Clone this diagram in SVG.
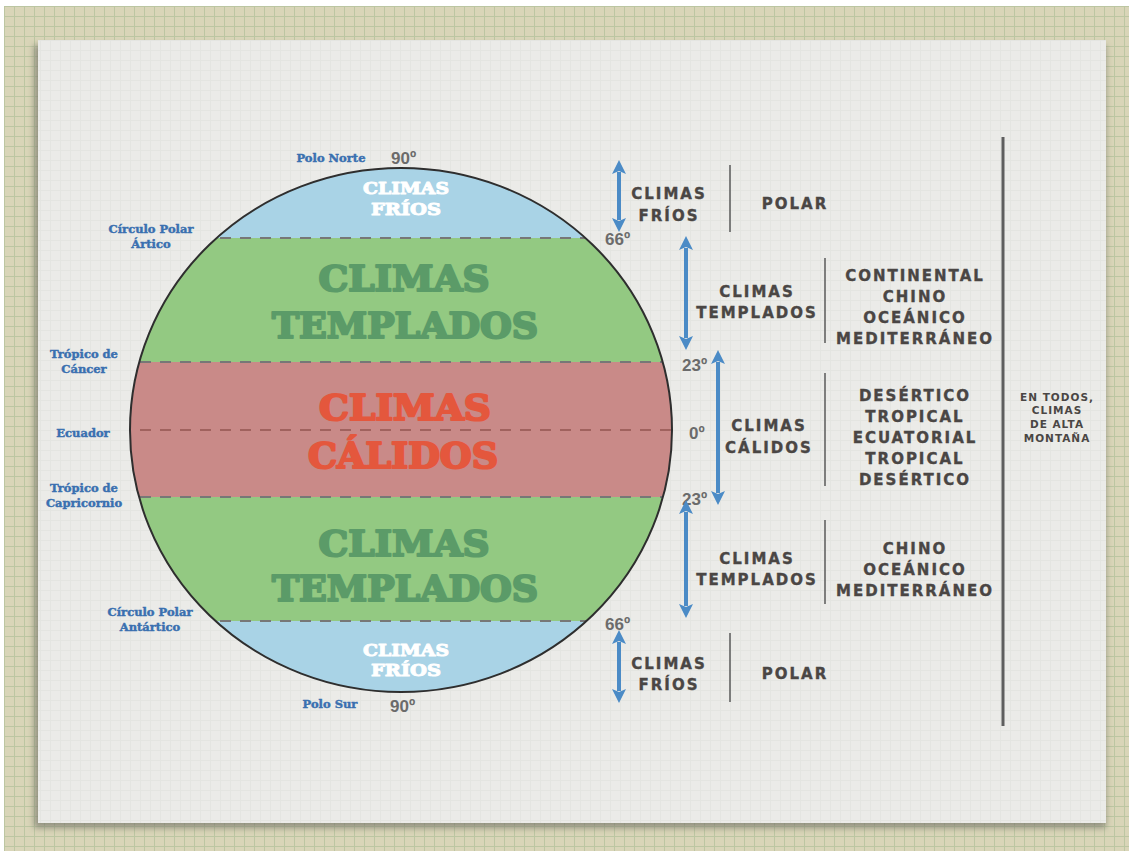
<svg xmlns="http://www.w3.org/2000/svg" width="1129" height="851" viewBox="0 0 1129 851">
<defs>
<pattern id="grid" width="10" height="10" patternUnits="userSpaceOnUse" x="4" y="6">
<rect width="10" height="10" fill="#d9d5b8"/>
<path d="M0,0.5 H10 M0.5,0 V10" stroke="#bcc6a2" stroke-width="1"/>
</pattern>
<pattern id="papergrid" width="10" height="10" patternUnits="userSpaceOnUse">
<rect width="10" height="10" fill="#ebebe8"/>
<path d="M0,0.5 H10 M0.5,0 V10" stroke="#e4e5e1" stroke-width="1"/>
</pattern>
<filter id="blur" x="-5%" y="-5%" width="110%" height="110%"><feGaussianBlur stdDeviation="3"/></filter>
<clipPath id="globe"><ellipse cx="401" cy="430" rx="271" ry="262"/></clipPath>
<marker id="ah" viewBox="-2 -8 18 16" markerWidth="18" markerHeight="16" refX="2" refY="0" orient="auto-start-reverse" markerUnits="userSpaceOnUse">
<path d="M0,-7 L14,0 L0,7 L3,0 Z" fill="#4b8bc6"/>
</marker>
<style>
.slab{font-family:"DejaVu Serif","Liberation Serif",serif;font-weight:bold;text-anchor:middle;stroke-linejoin:round}
.big{font-size:36px;stroke-width:2.2px}
.sm{font-size:17px;stroke-width:1px;fill:#ffffff;stroke:#ffffff}
.grn{fill:#5b9b68;stroke:#5b9b68}
.red{fill:#e4573d;stroke:#e4573d}
.lbl{font-family:"DejaVu Serif","Liberation Serif",serif;font-weight:bold;font-size:11.5px;fill:#3a70b0;stroke:#3a70b0;stroke-width:0.45px;text-anchor:middle}
.deg{font-family:"Liberation Sans","DejaVu Sans",sans-serif;font-weight:bold;font-size:17px;fill:#6b6b6b}
.cap{font-family:"DejaVu Sans","Liberation Sans",sans-serif;font-weight:bold;font-size:15px;fill:#4a4644;stroke:#4a4644;stroke-width:0.35px;text-anchor:middle;letter-spacing:2px}
.small{font-family:"DejaVu Sans","Liberation Sans",sans-serif;font-weight:bold;font-size:10.5px;fill:#4a4644;text-anchor:middle;letter-spacing:1px}
.dash{stroke:#777;stroke-width:2;stroke-dasharray:11 9;fill:none}
.arrow{stroke:#4b8bc6;stroke-width:4;marker-start:url(#ah);marker-end:url(#ah)}
.sep{stroke:#5a5a5a;stroke-width:1.5}
</style>
</defs>
<rect x="0" y="0" width="1129" height="851" fill="#ffffff"/>
<rect x="4" y="6" width="1125" height="845" fill="url(#grid)"/>
<rect x="34" y="45" width="1072" height="783" fill="#77786a" opacity="0.7" filter="url(#blur)"/>
<rect x="38" y="40" width="1068" height="783" fill="url(#papergrid)"/>

<g id="globe-bands" clip-path="url(#globe)">
<rect x="120" y="160" width="560" height="78" fill="#a9d3e6"/>
<rect x="120" y="238" width="560" height="124" fill="#93c982"/>
<rect x="120" y="362" width="560" height="135" fill="#c98a88"/>
<rect x="120" y="497" width="560" height="124" fill="#93c982"/>
<rect x="120" y="621" width="560" height="80" fill="#a9d3e6"/>
<line class="dash" x1="120" y1="238" x2="680" y2="238"/>
<line class="dash" x1="120" y1="362" x2="680" y2="362"/>
<line class="dash" x1="120" y1="430" x2="680" y2="430" style="stroke:#a0625e"/>
<line class="dash" x1="120" y1="497" x2="680" y2="497"/>
<line class="dash" x1="120" y1="621" x2="680" y2="621"/>
</g>
<ellipse id="globe-outline" cx="401" cy="430" rx="271" ry="262" fill="none" stroke="#2e2e2e" stroke-width="2"/>

<g id="zone-frios-n">
<text class="slab sm" x="406" y="194" textLength="86" lengthAdjust="spacingAndGlyphs">CLIMAS</text>
<text class="slab sm" x="406" y="215" textLength="70" lengthAdjust="spacingAndGlyphs">FRÍOS</text>
</g>
<g id="zone-templados-n">
<text class="slab big grn" x="404" y="291" textLength="171" lengthAdjust="spacingAndGlyphs">CLIMAS</text>
<text class="slab big grn" x="405" y="338" textLength="266" lengthAdjust="spacingAndGlyphs">TEMPLADOS</text>
</g>
<g id="zone-calidos">
<text class="slab big red" x="405" y="420" textLength="172" lengthAdjust="spacingAndGlyphs">CLIMAS</text>
<text class="slab big red" x="403" y="468" textLength="190" lengthAdjust="spacingAndGlyphs">CÁLIDOS</text>
</g>
<g id="zone-templados-s">
<text class="slab big grn" x="404" y="556" textLength="171" lengthAdjust="spacingAndGlyphs">CLIMAS</text>
<text class="slab big grn" x="405" y="601" textLength="266" lengthAdjust="spacingAndGlyphs">TEMPLADOS</text>
</g>
<g id="zone-frios-s">
<text class="slab sm" x="406" y="656" textLength="86" lengthAdjust="spacingAndGlyphs">CLIMAS</text>
<text class="slab sm" x="406" y="676" textLength="70" lengthAdjust="spacingAndGlyphs">FRÍOS</text>
</g>

<g id="labels-left">
<text class="lbl" x="331" y="162">Polo Norte</text>
<text class="lbl" x="151" y="233">Círculo Polar</text>
<text class="lbl" x="151" y="248">Ártico</text>
<text class="lbl" x="84" y="358">Trópico de</text>
<text class="lbl" x="84" y="373">Cáncer</text>
<text class="lbl" x="83" y="437">Ecuador</text>
<text class="lbl" x="84" y="492">Trópico de</text>
<text class="lbl" x="84" y="507">Capricornio</text>
<text class="lbl" x="150" y="616">Círculo Polar</text>
<text class="lbl" x="150" y="631">Antártico</text>
<text class="lbl" x="330" y="708">Polo Sur</text>
</g>

<g id="degrees">
<text class="deg" x="391" y="164">90º</text>
<text class="deg" x="605" y="245">66º</text>
<text class="deg" x="682" y="371">23º</text>
<text class="deg" x="689" y="439">0º</text>
<text class="deg" x="682" y="505">23º</text>
<text class="deg" x="605" y="630">66º</text>
<text class="deg" x="390" y="712">90º</text>
</g>

<g id="connectors">
<line class="arrow" x1="619" y1="172" x2="619" y2="220"/>
<line class="arrow" x1="686" y1="248" x2="686" y2="338"/>
<line class="arrow" x1="718" y1="362" x2="718" y2="493"/>
<line class="arrow" x1="686" y1="512" x2="686" y2="606"/>
<line class="arrow" x1="619" y1="642" x2="619" y2="691"/>
<line class="sep" x1="730" y1="165" x2="730" y2="232"/>
<line class="sep" x1="825" y1="258" x2="825" y2="343"/>
<line class="sep" x1="825" y1="373" x2="825" y2="486"/>
<line class="sep" x1="825" y1="520" x2="825" y2="604"/>
<line class="sep" x1="730" y1="633" x2="730" y2="702"/>
<line x1="1003" y1="137" x2="1003" y2="726" stroke="#5e5e5e" stroke-width="3"/>
</g>

<g id="row-polar-n">
<text class="cap" x="669" y="199">CLIMAS</text>
<text class="cap" x="669" y="221">FRÍOS</text>
<text class="cap" x="795" y="209">POLAR</text>
</g>
<g id="row-templados-n">
<text class="cap" x="757" y="297">CLIMAS</text>
<text class="cap" x="757" y="318">TEMPLADOS</text>
<text class="cap" x="915" y="281">CONTINENTAL</text>
<text class="cap" x="915" y="302">CHINO</text>
<text class="cap" x="915" y="323">OCEÁNICO</text>
<text class="cap" x="915" y="344">MEDITERRÁNEO</text>
</g>
<g id="row-calidos">
<text class="cap" x="769" y="431">CLIMAS</text>
<text class="cap" x="769" y="453">CÁLIDOS</text>
<text class="cap" x="915" y="401">DESÉRTICO</text>
<text class="cap" x="915" y="422">TROPICAL</text>
<text class="cap" x="915" y="443">ECUATORIAL</text>
<text class="cap" x="915" y="464">TROPICAL</text>
<text class="cap" x="915" y="485">DESÉRTICO</text>
</g>
<g id="row-templados-s">
<text class="cap" x="757" y="564">CLIMAS</text>
<text class="cap" x="757" y="585">TEMPLADOS</text>
<text class="cap" x="915" y="554">CHINO</text>
<text class="cap" x="915" y="575">OCEÁNICO</text>
<text class="cap" x="915" y="596">MEDITERRÁNEO</text>
</g>
<g id="row-polar-s">
<text class="cap" x="669" y="669">CLIMAS</text>
<text class="cap" x="669" y="690">FRÍOS</text>
<text class="cap" x="795" y="679">POLAR</text>
</g>
<g id="note-montana">
<text class="small" x="1057" y="401">EN TODOS,</text>
<text class="small" x="1057" y="414">CLIMAS</text>
<text class="small" x="1057" y="428">DE ALTA</text>
<text class="small" x="1057" y="442">MONTAÑA</text>
</g>
</svg>
